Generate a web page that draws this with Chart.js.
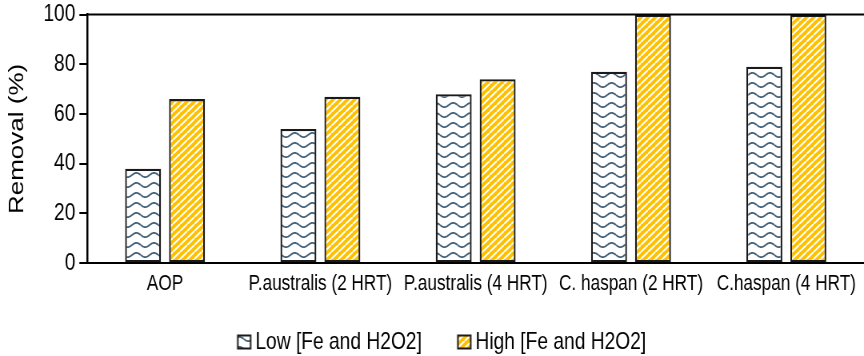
<!DOCTYPE html>
<html>
<head>
<meta charset="utf-8">
<script src="https://cdn.jsdelivr.net/npm/chart.js@4.4.1/dist/chart.umd.min.js"></script>
<style>
  html, body { margin: 0; padding: 0; background: #ffffff; overflow: hidden; }
  #wrap { width: 864px; height: 356px; overflow: hidden; }
  /* the figure is drawn wide and condensed horizontally, like a stretched export */
  #chart { transform: scaleX(0.8); transform-origin: 0 0; }
</style>
</head>
<body>
<div id="wrap"><canvas id="chart" width="1080" height="356"></canvas></div>
<script>
// Treatments compared
const categories = ['AOP', 'P.australis (2 HRT)', 'P.australis (4 HRT)', 'C. haspan (2 HRT)', 'C.haspan (4 HRT)'];
// Removal (%) at low and high Fe / H2O2 dosing
const lowDose = [38, 54, 68, 77, 79];
const highDose = [66, 67, 74, 100, 100];
const seriesNames = ['Low [Fe and H2O2]', 'High [Fe and H2O2]'];
const yTicks = [0, 20, 40, 60, 80, 100];

const FONT = '"Liberation Sans", Arial, sans-serif';

// Wavy slate-blue hatching on white
function waveTile() {
  const c = document.createElement('canvas');
  c.width = 22; c.height = 10;
  const g = c.getContext('2d');
  g.fillStyle = '#ffffff';
  g.fillRect(0, 0, c.width, c.height);
  g.strokeStyle = '#44627a';
  g.lineWidth = 1.8;
  g.beginPath();
  for (let x = 0; x <= c.width; x += 0.5) {
    const y = 5 + 2.1 * Math.sin((x / c.width) * Math.PI * 2);
    if (x === 0) g.moveTo(x, y); else g.lineTo(x, y);
  }
  g.stroke();
  return c;
}

// Yellow fill with thin white diagonal stripes
function stripeTile() {
  const c = document.createElement('canvas');
  c.width = 9; c.height = 7;
  const g = c.getContext('2d');
  g.fillStyle = '#ffc000';
  g.fillRect(0, 0, c.width, c.height);
  g.strokeStyle = '#ffffff';
  g.lineWidth = 2;
  const s = c.width, h = c.height;
  for (let k = -1; k <= 1; k++) {
    g.beginPath();
    g.moveTo(k * s, h);
    g.lineTo(k * s + s, 0);
    g.stroke();
  }
  return c;
}

const waveCanvas = waveTile();
const stripeCanvas = stripeTile();
const ctx0 = document.createElement('canvas').getContext('2d');
const wavePattern = ctx0.createPattern(waveCanvas, 'repeat');
const stripePattern = ctx0.createPattern(stripeCanvas, 'repeat');

// Legend swatch: patterned square sitting close to its label
const SWATCH_SLOT = 31;
function swatch(tile) {
  const c = document.createElement('canvas');
  c.width = SWATCH_SLOT * 2; c.height = 16;
  const g = c.getContext('2d');
  const left = SWATCH_SLOT / 2 - 10 + SWATCH_SLOT;
  g.fillStyle = g.createPattern(tile, 'repeat');
  g.fillRect(left, 1.5, 16, 13);
  g.strokeStyle = '#1a1a1a';
  g.lineWidth = 2;
  g.strokeRect(left, 1.5, 16, 13);
  return c;
}
const swatches = [swatch(waveCanvas), swatch(stripeCanvas)];

// Frame line along the top of the plot area
const topFrame = {
  id: 'topFrame',
  afterDraw(chart) {
    const { ctx, chartArea } = chart;
    ctx.save();
    ctx.strokeStyle = '#000000';
    ctx.lineWidth = 2;
    ctx.beginPath();
    ctx.moveTo(chartArea.left, chartArea.top);
    ctx.lineTo(chartArea.right, chartArea.top);
    ctx.stroke();
    ctx.restore();
  }
};

new Chart(document.getElementById('chart'), {
  type: 'bar',
  data: {
    labels: categories,
    datasets: [
      {
        label: seriesNames[0],
        data: lowDose,
        backgroundColor: wavePattern,
        borderColor: '#1a1a1a',
        borderWidth: 2.3,
        borderSkipped: false
      },
      {
        label: seriesNames[1],
        data: highDose,
        backgroundColor: stripePattern,
        borderColor: '#1a1a1a',
        borderWidth: 2.3,
        borderSkipped: false
      }
    ]
  },
  options: {
    responsive: false,
    animation: false,
    devicePixelRatio: 1,
    categoryPercentage: 0.566,
    barPercentage: 0.818,
    layout: { padding: { top: 0, right: 0, left: 4, bottom: -8 } },
    plugins: {
      tooltip: { enabled: false },
      legend: {
        position: 'bottom',
        labels: {
          color: '#000000',
          font: { family: FONT, size: 24 },
          usePointStyle: true,
          pointStyleWidth: SWATCH_SLOT,
          boxHeight: 16,
          padding: 24,
          generateLabels(chart) {
            const items = Chart.defaults.plugins.legend.labels.generateLabels(chart);
            items.forEach((it, i) => { it.pointStyle = swatches[i]; });
            return items;
          }
        }
      }
    },
    scales: {
      x: {
        grid: { display: false },
        border: { display: true, color: '#000000', width: 2 },
        ticks: {
          color: '#000000',
          font: { family: FONT, size: 21.5 },
          padding: 0,
          maxRotation: 0,
          autoSkip: false
        },
        afterFit(scale) { scale.height += 9; }
      },
      y: {
        min: 0,
        max: 100,
        afterBuildTicks(axis) { axis.ticks = yTicks.map(v => ({ value: v })); },
        grid: {
          display: true,
          drawOnChartArea: false,
          drawTicks: true,
          tickLength: 10,
          color: '#000000',
          lineWidth: 2
        },
        border: { display: true, color: '#000000', width: 2.5 },
        ticks: {
          color: '#000000',
          font: { family: FONT, size: 24, lineHeight: 0.8 },
          padding: 5
        },
        title: {
          display: true,
          text: 'Removal (%)',
          color: '#000000',
          font: { family: FONT, size: 26 },
          padding: { top: 2, bottom: 12 }
        }
      }
    }
  },
  plugins: [topFrame]
});
</script>
</body>
</html>
